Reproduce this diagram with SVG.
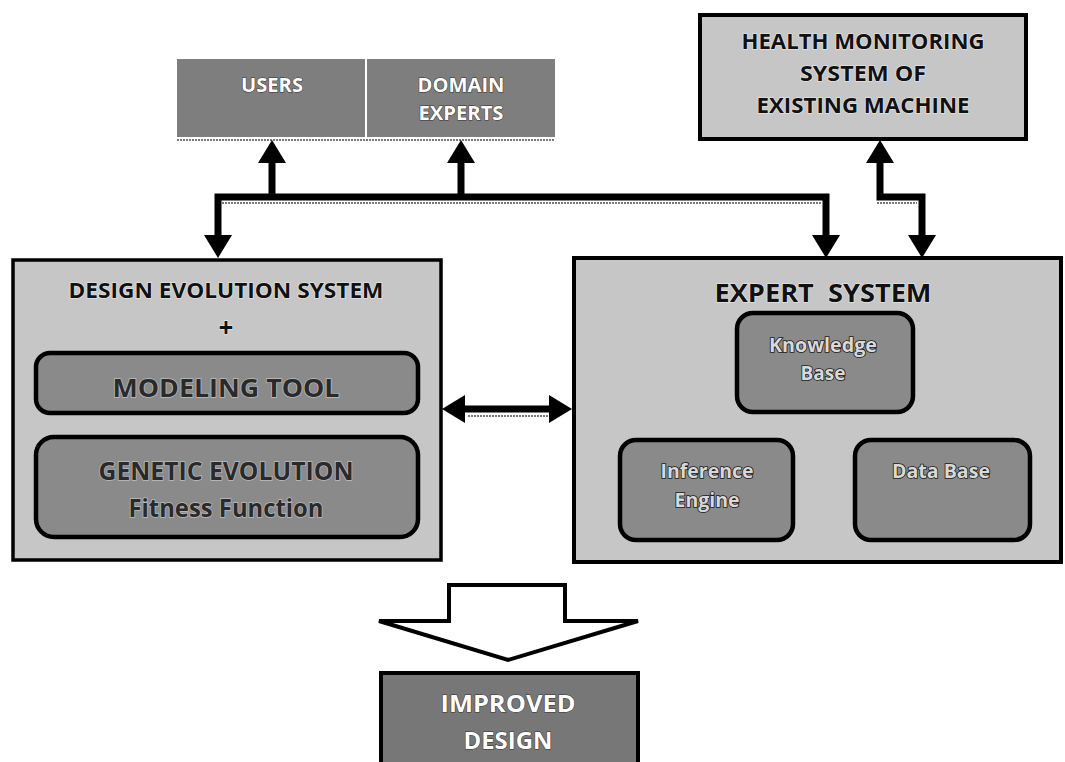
<svg xmlns="http://www.w3.org/2000/svg" width="1065" height="762" viewBox="0 0 1065 762">
<style>
  .light { fill: #c6c6c6; stroke: #000; stroke-width: 4; }
  .dark { fill: #8a8a8a; stroke: #000; stroke-width: 4.5; }
  .top { fill: #7e7e7e; stroke: none; }
  .impr { fill: #777; stroke: #000; stroke-width: 4; }
  text { font-family: "Open Sans", "Liberation Sans", sans-serif; font-weight: bold; text-anchor: middle; }
  .wt { fill: #fff; stroke: #333; stroke-width: 1; paint-order: stroke; }
  .bt { fill: #111; stroke: #eee; stroke-width: 1.2; paint-order: stroke; }
  .dt { fill: #2a2a2a; stroke: #bdbdbd; stroke-width: 1.5; paint-order: stroke; }
  .lt { fill: #d9d9d9; stroke: #1a1a1a; stroke-width: 1.6; paint-order: stroke; }
  .conn { fill: none; stroke: #000; stroke-width: 7; stroke-linejoin: miter; }
  .shadow { fill: none; stroke: #777; stroke-width: 2; stroke-dasharray: 2 1; }
</style>
<defs>
  <marker id="ah" markerUnits="userSpaceOnUse" markerWidth="24" markerHeight="28" refX="0" refY="14" orient="auto-start-reverse">
    <path d="M0,0 L23,14 L0,28 z" fill="#000"/>
  </marker>
</defs>
<rect width="1065" height="762" fill="#fff"/>

<g id="users">
  <rect class="top" x="177" y="59" width="188" height="78"/>
  <text class="wt" x="272" y="92" font-size="19" textLength="62" lengthAdjust="spacingAndGlyphs">USERS</text>
</g>
<g id="domain-experts">
  <rect class="top" x="367" y="59" width="188" height="78"/>
  <text class="wt" x="461" y="92" font-size="19" textLength="87" lengthAdjust="spacingAndGlyphs">DOMAIN</text>
  <text class="wt" x="461" y="120" font-size="19" textLength="85" lengthAdjust="spacingAndGlyphs">EXPERTS</text>
</g>
<line class="shadow" x1="177" y1="140" x2="555" y2="140"/>

<g id="health-monitoring">
  <rect class="light" x="700" y="15" width="326" height="124"/>
  <text class="bt" x="863" y="49" font-size="22" textLength="243" lengthAdjust="spacingAndGlyphs">HEALTH MONITORING</text>
  <text class="bt" x="863" y="81" font-size="22" textLength="126" lengthAdjust="spacingAndGlyphs">SYSTEM OF</text>
  <text class="bt" x="863" y="113" font-size="22" textLength="213" lengthAdjust="spacingAndGlyphs">EXISTING MACHINE</text>
</g>

<g id="design-evolution-system">
  <rect class="light" x="13" y="260" width="428" height="300" style="stroke-width:3.5"/>
  <text class="bt" x="226" y="298" font-size="21" textLength="315" lengthAdjust="spacingAndGlyphs">DESIGN EVOLUTION SYSTEM</text>
  <text class="bt" x="226" y="337" font-size="26">+</text>
  <g id="modeling-tool">
    <rect class="dark" x="36" y="353" width="382" height="60" rx="14"/>
    <text class="dt" x="226" y="397" font-size="25" textLength="227" lengthAdjust="spacingAndGlyphs">MODELING TOOL</text>
  </g>
  <g id="genetic-evolution">
    <rect class="dark" x="36" y="437" width="382" height="100" rx="18"/>
    <text class="dt" x="226" y="480" font-size="25" textLength="255" lengthAdjust="spacingAndGlyphs">GENETIC EVOLUTION</text>
    <text class="dt" x="226" y="517" font-size="25" textLength="195" lengthAdjust="spacingAndGlyphs">Fitness Function</text>
  </g>
</g>

<g id="expert-system">
  <rect class="light" x="574" y="258" width="487" height="304"/>
  <text class="bt" x="823" y="302" font-size="25" textLength="217" lengthAdjust="spacingAndGlyphs" xml:space="preserve">EXPERT  SYSTEM</text>
  <g id="knowledge-base">
    <rect class="dark" x="737" y="313" width="176" height="99" rx="16"/>
    <text class="lt" x="823" y="352" font-size="19" textLength="108" lengthAdjust="spacingAndGlyphs">Knowledge</text>
    <text class="lt" x="823" y="380" font-size="19" textLength="45" lengthAdjust="spacingAndGlyphs">Base</text>
  </g>
  <g id="inference-engine">
    <rect class="dark" x="620" y="440" width="173" height="100" rx="16"/>
    <text class="lt" x="707" y="478" font-size="19" textLength="93" lengthAdjust="spacingAndGlyphs">Inference</text>
    <text class="lt" x="707" y="507" font-size="19" textLength="65" lengthAdjust="spacingAndGlyphs">Engine</text>
  </g>
  <g id="data-base">
    <rect class="dark" x="855" y="440" width="175" height="100" rx="16"/>
    <text class="lt" x="941" y="478" font-size="19" textLength="98" lengthAdjust="spacingAndGlyphs">Data Base</text>
  </g>
</g>

<g id="improved-design">
  <rect class="impr" x="381" y="673" width="257" height="95"/>
  <text class="wt" x="508" y="712" font-size="23" textLength="135" lengthAdjust="spacingAndGlyphs">IMPROVED</text>
  <text class="wt" x="508" y="749" font-size="23" textLength="89" lengthAdjust="spacingAndGlyphs">DESIGN</text>
</g>

<g id="connectors">
  <path class="conn" d="M218,235 L218,197 L826,197 L826,235" marker-start="url(#ah)" marker-end="url(#ah)"/>
  <line class="conn" x1="272" y1="197" x2="272" y2="163" marker-end="url(#ah)"/>
  <line class="conn" x1="461" y1="197" x2="461" y2="163" marker-end="url(#ah)"/>
  <line class="shadow" x1="222" y1="203" x2="822" y2="203"/>
  <path class="conn" d="M880,163 L880,197 L922,197 L922,235" marker-start="url(#ah)" marker-end="url(#ah)"/>
  <line class="shadow" x1="877" y1="203" x2="917" y2="203"/>
  <line class="conn" x1="465" y1="409" x2="549" y2="409" marker-start="url(#ah)" marker-end="url(#ah)"/>
  <line class="shadow" x1="468" y1="416" x2="548" y2="416"/>
  <path d="M449,585 L565,585 L565,621 L638,621 L508,660 L379,621 L449,621 z" fill="#fff" stroke="#000" stroke-width="4" stroke-linejoin="miter"/>
</g>
</svg>
